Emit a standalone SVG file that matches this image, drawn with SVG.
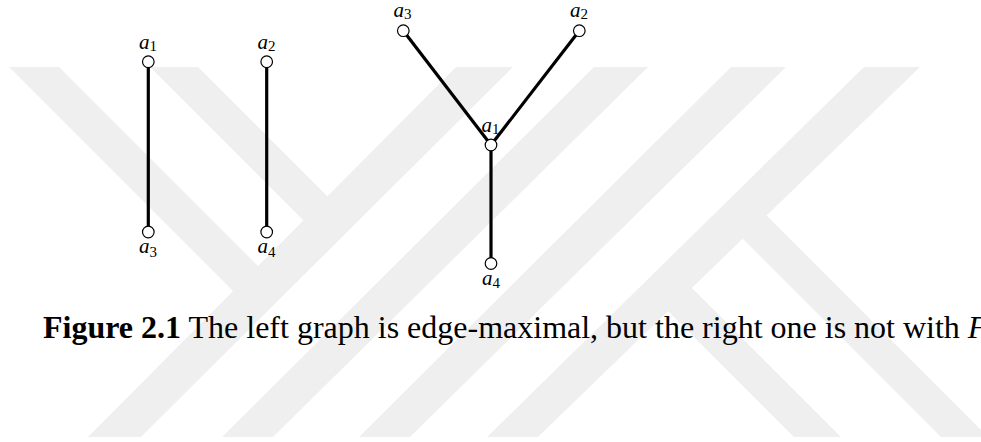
<svg xmlns="http://www.w3.org/2000/svg" width="981" height="442" viewBox="0 0 981 442">
<style>
.wm{fill:#efefef;stroke:none}
.edge{stroke:#000;stroke-width:3.2;fill:none}
.node circle{fill:#fff;stroke:#000;stroke-width:1.2}
.lbl{font-family:"Liberation Serif","Times New Roman",serif;font-style:italic;font-size:21px;fill:#000;text-anchor:middle}
.sub{font-style:normal;font-size:15px}
.cap{font-family:"Liberation Serif","Times New Roman",serif;font-size:32px;fill:#000}
</style>
<rect width="981" height="442" fill="#fff"/>
<g id="watermark">
<polygon class="wm" points="88,437 141,437 513,67 456,67"/>
<polygon class="wm" points="222,437 273,437 648,67 594,67"/>
<polygon class="wm" points="359,437 410,437 786,67 731,67"/>
<polygon class="wm" points="487,437 538,437 920,67 864,67"/>
<polygon class="wm" points="9,67 59,67 271.75,279.75 246.75,304.75"/>
<polygon class="wm" points="150,67 198,67 341.25,210.25 317.25,234.25"/>
<polygon class="wm" points="794,437 841,437 676.75,272.75 653.25,296.25"/>
<polygon class="wm" points="941,437 988,437 750.25,199.25 726.75,222.75"/>
</g>
<g id="connectors">
<line class="edge" x1="148.3" y1="61.7" x2="148.3" y2="232"/>
<line class="edge" x1="266.7" y1="61.7" x2="266.7" y2="232"/>
<line class="edge" x1="403.3" y1="30.7" x2="491" y2="145"/>
<line class="edge" x1="579.3" y1="30.7" x2="491" y2="145"/>
<line class="edge" x1="491" y1="145" x2="491" y2="263.5"/>
</g>
<g id="L-a1" class="node"><circle cx="148.3" cy="61.7" r="5.8"/><text class="lbl" x="148" y="49.3">a<tspan class="sub" dy="1.8">1</tspan></text></g>
<g id="L-a2" class="node"><circle cx="266.7" cy="61.7" r="5.8"/><text class="lbl" x="266.5" y="49.3">a<tspan class="sub" dy="1.8">2</tspan></text></g>
<g id="L-a3" class="node"><circle cx="148.3" cy="232" r="5.8"/><text class="lbl" x="148" y="252.7">a<tspan class="sub" dy="4">3</tspan></text></g>
<g id="L-a4" class="node"><circle cx="266.7" cy="232" r="5.8"/><text class="lbl" x="266.5" y="252.7">a<tspan class="sub" dy="4">4</tspan></text></g>
<g id="R-a3" class="node"><circle cx="403.3" cy="30.7" r="5.8"/><text class="lbl" x="402.5" y="16.7">a<tspan class="sub" dy="2.3">3</tspan></text></g>
<g id="R-a2" class="node"><circle cx="579.3" cy="30.7" r="5.8"/><text class="lbl" x="579" y="16.7">a<tspan class="sub" dy="2.3">2</tspan></text></g>
<g id="R-a1" class="node"><circle cx="491" cy="145" r="5.8"/><text class="lbl" x="490.5" y="131.7">a<tspan class="sub" dy="2">1</tspan></text></g>
<g id="R-a4" class="node"><circle cx="491" cy="263.5" r="5.8"/><text class="lbl" x="491" y="285">a<tspan class="sub" dy="3">4</tspan></text></g>
<text class="cap" x="43" y="338"><tspan font-weight="bold">Figure 2.1</tspan> The left graph is edge-maximal, but the right one is not with <tspan font-style="italic">F</tspan></text>
</svg>
